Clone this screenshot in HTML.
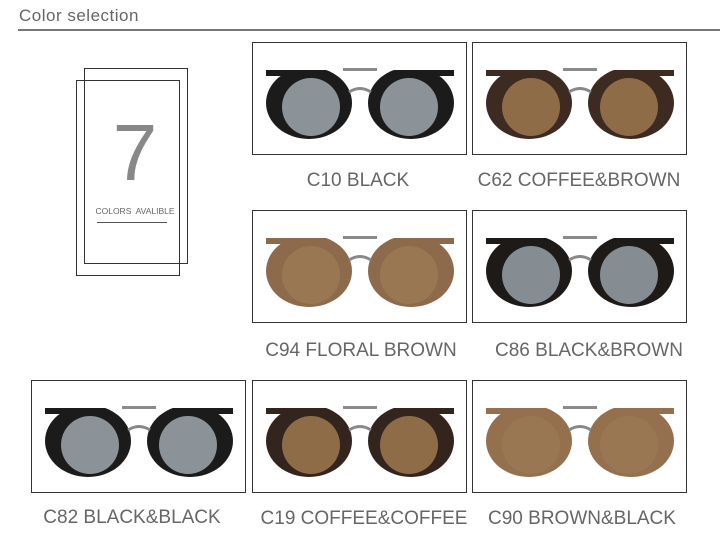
<!DOCTYPE html>
<html><head><style>
body{margin:0;background:#fff;width:720px;height:540px;overflow:hidden;position:relative;font-family:"Liberation Sans",sans-serif}
.a{position:absolute}
.box{position:absolute;width:213px;height:111px;border:1px solid #333;background:#fff}
.lbl{position:absolute;width:260px;text-align:center;font-size:19px;color:#666;transform:translateX(-50%)}
</style></head><body>
<div class="a" style="left:19px;top:6px;font-size:17px;color:#666;letter-spacing:0.5px">Color selection</div>
<div class="a" style="left:18px;top:29px;width:702px;height:2px;background:#777"></div>
<div class="a" style="left:84px;top:68px;width:102px;height:194px;border:1px solid #333"></div>
<div class="a" style="left:76px;top:80px;width:102px;height:194px;border:1px solid #333"></div>
<div class="a" style="left:84px;top:113px;width:102px;text-align:center;font-size:80px;color:#888;line-height:80px">7</div>
<div class="a" style="left:80px;top:206px;width:110px;text-align:center;font-size:8.5px;color:#666">COLORS&nbsp; AVALIBLE</div>
<div class="a" style="left:97px;top:222px;width:70px;height:1px;background:#555"></div>
<svg width="0" height="0" style="position:absolute">
<defs>
<clipPath id="c"><rect x="0" y="27" width="213" height="84"/></clipPath>
<g id="g">
<rect x="90" y="25" width="34" height="3" fill="#8a8a8a"/>
<g clip-path="url(#c)">
<ellipse cx="56" cy="60" rx="43" ry="36"/>
<ellipse cx="158" cy="60" rx="43" ry="36"/>
</g>
<rect x="13" y="27" width="40" height="6" />
<rect x="160" y="27" width="41" height="6" />
<path d="M96 49 Q107 42 118 49" fill="none" stroke="#888" stroke-width="3"/>
</g>
</defs></svg>
<div class="box" style="left:252px;top:42px"><svg width="213" height="111"><g fill="#1b1b1b"><use href="#g"/></g><circle cx="58" cy="64" r="29" fill="#8b9398"/><circle cx="156" cy="64" r="29" fill="#8b9398"/></svg></div>
<div class="box" style="left:472px;top:42px"><svg width="213" height="111"><g fill="#3d2a20"><use href="#g"/></g><circle cx="58" cy="64" r="29" fill="#8f6c48"/><circle cx="156" cy="64" r="29" fill="#8f6c48"/></svg></div>
<div class="box" style="left:252px;top:210px"><svg width="213" height="111"><g fill="#8e6a4c"><use href="#g"/></g><circle cx="58" cy="64" r="29" fill="#9a7753"/><circle cx="156" cy="64" r="29" fill="#9a7753"/></svg></div>
<div class="box" style="left:472px;top:210px"><svg width="213" height="111"><g fill="#1e1a18"><use href="#g"/></g><circle cx="58" cy="64" r="29" fill="#868d92"/><circle cx="156" cy="64" r="29" fill="#868d92"/></svg></div>
<div class="box" style="left:31px;top:380px"><svg width="213" height="111"><g fill="#1b1b1b"><use href="#g"/></g><circle cx="58" cy="64" r="29" fill="#8b9398"/><circle cx="156" cy="64" r="29" fill="#8b9398"/></svg></div>
<div class="box" style="left:252px;top:380px"><svg width="213" height="111"><g fill="#33251d"><use href="#g"/></g><circle cx="58" cy="64" r="29" fill="#8f6c48"/><circle cx="156" cy="64" r="29" fill="#8f6c48"/></svg></div>
<div class="box" style="left:472px;top:380px"><svg width="213" height="111"><g fill="#94704f"><use href="#g"/></g><circle cx="58" cy="64" r="29" fill="#9a7753"/><circle cx="156" cy="64" r="29" fill="#9a7753"/></svg></div>
<div class="lbl" style="left:358px;top:170px">C10 BLACK</div>
<div class="lbl" style="left:579px;top:170px">C62 COFFEE&amp;BROWN</div>
<div class="lbl" style="left:361px;top:340px">C94 FLORAL BROWN</div>
<div class="lbl" style="left:589px;top:340px">C86 BLACK&amp;BROWN</div>
<div class="lbl" style="left:132px;top:507px">C82 BLACK&amp;BLACK</div>
<div class="lbl" style="left:364px;top:508px">C19 COFFEE&amp;COFFEE</div>
<div class="lbl" style="left:582px;top:508px">C90 BROWN&amp;BLACK</div>
</body></html>
